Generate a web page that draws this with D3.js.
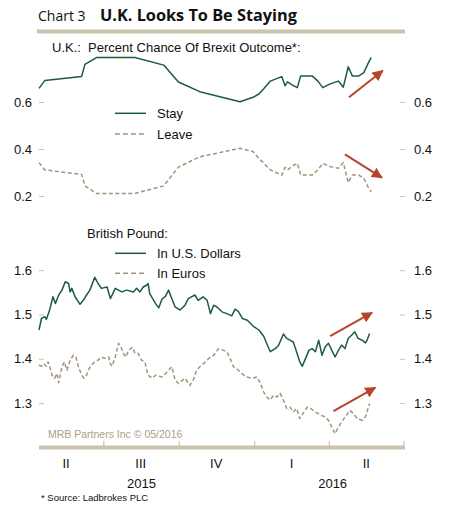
<!DOCTYPE html>
<html><head><meta charset="utf-8">
<script src="https://cdn.jsdelivr.net/npm/d3@7"></script>
<style>
html,body{margin:0;padding:0;background:#fff;}
text{font-family:"Liberation Sans",Arial,sans-serif;}
</style></head>
<body><svg id="c" width="456" height="507"></svg>
<script>
// ---------- DATA ----------
const brexitDates = ["2015-04-13","2015-04-20","2015-06-04","2015-06-08","2015-06-22","2015-08-08","2015-09-12","2015-09-30","2015-10-26","2015-12-14","2015-12-30","2016-01-06","2016-01-12","2016-01-20","2016-02-03","2016-02-07","2016-02-10","2016-02-16","2016-02-22","2016-02-26","2016-03-11","2016-03-18","2016-03-24","2016-04-02","2016-04-12","2016-04-18","2016-04-24","2016-04-29","2016-05-07","2016-05-13","2016-05-18","2016-05-22"];
const stay  = [0.658,0.691,0.709,0.760,0.789,0.789,0.757,0.685,0.644,0.601,0.620,0.634,0.656,0.689,0.708,0.669,0.686,0.672,0.661,0.711,0.711,0.689,0.661,0.677,0.689,0.663,0.750,0.711,0.711,0.725,0.762,0.790];
const leave = [0.342,0.311,0.292,0.243,0.211,0.211,0.243,0.323,0.367,0.403,0.389,0.360,0.339,0.311,0.289,0.322,0.311,0.328,0.339,0.289,0.289,0.311,0.339,0.325,0.318,0.342,0.257,0.289,0.289,0.275,0.240,0.218];

const usdDates = ["2015-04-13","2015-04-16","2015-04-20","2015-04-22","2015-04-26","2015-04-30","2015-05-03","2015-05-07","2015-05-11","2015-05-15","2015-05-19","2015-05-21","2015-05-23","2015-05-27","2015-06-02","2015-06-06","2015-06-10","2015-06-14","2015-06-20","2015-06-24","2015-06-28","2015-07-05","2015-07-09","2015-07-15","2015-07-19","2015-07-23","2015-07-29","2015-08-06","2015-08-10","2015-08-14","2015-08-18","2015-08-22","2015-08-24","2015-08-26","2015-09-02","2015-09-06","2015-09-10","2015-09-14","2015-09-18","2015-09-21","2015-09-26","2015-10-02","2015-10-08","2015-10-12","2015-10-20","2015-10-24","2015-10-30","2015-11-04","2015-11-08","2015-11-12","2015-11-16","2015-11-22","2015-11-28","2015-12-04","2015-12-08","2015-12-12","2015-12-17","2015-12-23","2015-12-30","2016-01-06","2016-01-12","2016-01-16","2016-01-20","2016-01-26","2016-01-30","2016-02-05","2016-02-09","2016-02-13","2016-02-17","2016-02-21","2016-02-25","2016-02-28","2016-03-03","2016-03-07","2016-03-11","2016-03-15","2016-03-19","2016-03-23","2016-03-27","2016-03-31","2016-04-04","2016-04-08","2016-04-12","2016-04-16","2016-04-20","2016-04-24","2016-04-28","2016-05-02","2016-05-06","2016-05-11","2016-05-15","2016-05-17","2016-05-20"];
const usd = [1.465,1.491,1.495,1.489,1.510,1.540,1.525,1.544,1.555,1.574,1.570,1.551,1.559,1.540,1.523,1.532,1.544,1.555,1.584,1.570,1.559,1.562,1.536,1.559,1.555,1.551,1.555,1.551,1.559,1.551,1.562,1.566,1.570,1.547,1.525,1.515,1.535,1.541,1.555,1.540,1.517,1.510,1.521,1.536,1.544,1.532,1.540,1.532,1.502,1.521,1.517,1.506,1.502,1.497,1.512,1.507,1.491,1.487,1.474,1.465,1.451,1.433,1.416,1.423,1.430,1.456,1.446,1.442,1.438,1.416,1.393,1.383,1.401,1.419,1.423,1.416,1.442,1.408,1.427,1.435,1.419,1.404,1.419,1.431,1.423,1.446,1.453,1.461,1.446,1.442,1.436,1.442,1.457];

const eurDates = ["2015-04-13","2015-04-16","2015-04-19","2015-04-22","2015-04-24","2015-04-26","2015-04-29","2015-05-02","2015-05-05","2015-05-07","2015-05-11","2015-05-14","2015-05-17","2015-05-21","2015-05-25","2015-05-28","2015-05-31","2015-06-04","2015-06-07","2015-06-10","2015-06-12","2015-06-16","2015-06-20","2015-06-24","2015-06-28","2015-07-02","2015-07-07","2015-07-09","2015-07-11","2015-07-15","2015-07-19","2015-07-22","2015-07-25","2015-07-28","2015-07-31","2015-08-05","2015-08-08","2015-08-12","2015-08-16","2015-08-20","2015-08-24","2015-08-29","2015-09-02","2015-09-10","2015-09-16","2015-09-22","2015-09-26","2015-09-30","2015-10-08","2015-10-14","2015-10-18","2015-10-22","2015-10-26","2015-11-02","2015-11-06","2015-11-12","2015-11-18","2015-11-24","2015-11-28","2015-12-02","2015-12-06","2015-12-10","2015-12-16","2015-12-22","2015-12-29","2016-01-04","2016-01-08","2016-01-12","2016-01-16","2016-01-20","2016-01-24","2016-01-28","2016-02-01","2016-02-05","2016-02-09","2016-02-13","2016-02-17","2016-02-21","2016-02-25","2016-02-29","2016-03-05","2016-03-09","2016-03-15","2016-03-21","2016-03-27","2016-03-31","2016-04-04","2016-04-08","2016-04-12","2016-04-16","2016-04-22","2016-04-26","2016-04-30","2016-05-05","2016-05-11","2016-05-15","2016-05-20"];
const eur = [1.386,1.383,1.389,1.383,1.393,1.383,1.363,1.356,1.367,1.346,1.382,1.393,1.374,1.397,1.408,1.404,1.382,1.363,1.356,1.363,1.374,1.386,1.393,1.397,1.404,1.401,1.404,1.389,1.383,1.404,1.435,1.426,1.412,1.404,1.419,1.426,1.412,1.412,1.397,1.393,1.363,1.356,1.363,1.359,1.370,1.382,1.352,1.344,1.356,1.340,1.352,1.374,1.382,1.393,1.401,1.408,1.423,1.419,1.416,1.401,1.382,1.378,1.367,1.359,1.356,1.359,1.344,1.325,1.313,1.307,1.318,1.314,1.322,1.307,1.288,1.291,1.280,1.288,1.265,1.277,1.291,1.288,1.280,1.273,1.269,1.261,1.246,1.231,1.246,1.258,1.273,1.284,1.277,1.265,1.261,1.269,1.299];

const brexitTicks = [0.2, 0.4, 0.6];
const poundTicks = [1.3, 1.4, 1.5, 1.6];
const quarterLabels = ["II","III","IV","I","II"];
const quarterMids = ["2015-05-16","2015-08-15","2015-11-15","2016-02-15","2016-05-16"];
const quarterBounds = ["2015-07-01","2015-10-01","2016-01-01","2016-04-01","2016-07-01"];
const yearLabels = ["2015","2016"];
const yearMids = ["2015-08-16","2016-04-05"];
// arrows: [startDate, startValue, endDate, endValue]
const brexitArrows = [["2016-04-25",0.620,"2016-06-05",0.733],["2016-04-20",0.377,"2016-06-04",0.278]];
const poundArrows = [["2016-04-02",1.451,"2016-05-23",1.504],["2016-04-06",1.282,"2016-05-27",1.335]];

// ---------- DRAW ----------
const parse = d3.timeParse("%Y-%m-%d");
const svg = d3.select("#c");
const GREEN = "#1d5c3b", TAN = "#a29578", BEIGE = "#cbc3ad", RED = "#b5452a";

const x = d3.scaleTime().domain([parse("2015-04-13"), parse("2016-07-01")]).range([39, 404]);
const yTop = d3.scaleLinear().domain([0.1, 0.85]).range([219.5, 43.25]);
const yBot = d3.scaleLinear().domain([1.2, 1.65]).range([447.4, 248.05]);

// Title
svg.append("text").attr("x", 38).attr("y", 21).style("font-family", "'Open Sans',sans-serif")
  .style("font-size", "14px").attr("fill", "#111").text("Chart 3");
svg.append("text").attr("x", 100).attr("y", 21).style("font-family", "'Open Sans',sans-serif")
  .style("font-size", "16.3px").style("font-weight", "700").attr("fill", "#111").text("U.K. Looks To Be Staying");
svg.append("rect").attr("x", 37).attr("y", 29.5).attr("width", 368).attr("height", 4).attr("fill", BEIGE);

svg.append("text").attr("x", 52).attr("y", 52).style("font-size", "13px").attr("fill", "#111")
  .attr("xml:space", "preserve").text("U.K.:  Percent Chance Of Brexit Outcome*:");

// marker
svg.append("defs").append("marker").attr("id", "ah").attr("viewBox", "0 0 10 10")
  .attr("refX", 9).attr("refY", 5).attr("markerWidth", 5.5).attr("markerHeight", 5.5)
  .attr("markerUnits", "strokeWidth").attr("orient", "auto")
  .append("path").attr("d", "M0,0 L10,5 L0,10 z").attr("fill", RED);

function axes(scale, ticks) {
  const l = svg.append("g").attr("transform", "translate(39,0)")
    .call(d3.axisLeft(scale).tickValues(ticks).tickSize(-5).tickPadding(7).tickFormat(d3.format(".1f")));
  const r = svg.append("g").attr("transform", "translate(405,0)")
    .call(d3.axisRight(scale).tickValues(ticks).tickSize(-5).tickPadding(9).tickFormat(d3.format(".1f")));
  [l, r].forEach(g => {
    g.select(".domain").remove();
    g.selectAll("line").attr("stroke", BEIGE).attr("stroke-width", 1);
    g.selectAll("text").style("font-family", "'Liberation Sans',Arial,sans-serif").style("font-size", "13px").attr("fill", "#111");
  });
}
axes(yTop, brexitTicks);
axes(yBot, poundTicks);

function series(dates, vals, yS, color, dash) {
  const data = dates.map((d, i) => [parse(d), vals[i]]);
  const p = svg.append("path").datum(data)
    .attr("d", d3.line().x(d => x(d[0])).y(d => yS(d[1])))
    .attr("fill", "none").attr("stroke", color).attr("stroke-width", 1.5).attr("stroke-linejoin", "round");
  if (dash) p.attr("stroke-dasharray", dash);
}
series(brexitDates, stay, yTop, GREEN, null);
series(brexitDates, leave, yTop, TAN, "4,2.5");
series(usdDates, usd, yBot, GREEN, null);
series(eurDates, eur, yBot, TAN, "4,2.5");

function arrows(list, yS) {
  list.forEach(a => {
    svg.append("line").attr("x1", x(parse(a[0]))).attr("y1", yS(a[1]))
      .attr("x2", x(parse(a[2]))).attr("y2", yS(a[3]))
      .attr("stroke", RED).attr("stroke-width", 2).attr("marker-end", "url(#ah)");
  });
}
arrows(brexitArrows, yTop);
arrows(poundArrows, yBot);

// legends
function legendItem(y, label, color, dash) {
  const l = svg.append("line").attr("x1", 115).attr("x2", 146).attr("y1", y).attr("y2", y)
    .attr("stroke", color).attr("stroke-width", 1.5);
  if (dash) l.attr("stroke-dasharray", "5,3");
  svg.append("text").attr("x", 157).attr("y", y + 4.5).style("font-size", "13px").attr("fill", "#111").text(label);
}
legendItem(113.3, "Stay", GREEN, false);
legendItem(134, "Leave", TAN, true);
svg.append("text").attr("x", 87).attr("y", 237.5).style("font-size", "13px").attr("fill", "#111").text("British Pound:");
legendItem(253.3, "In U.S. Dollars", GREEN, false);
legendItem(273.3, "In Euros", TAN, true);

// copyright
svg.append("text").attr("x", 48).attr("y", 437.5).style("font-size", "10.5px").attr("fill", "#a89f87").text("MRB Partners Inc \u00A9 05/2016");

// x axis band
svg.append("rect").attr("x", 39).attr("y", 445.5).attr("width", 366).attr("height", 4).attr("fill", BEIGE);
svg.selectAll(".qt").data(quarterBounds).enter().append("line")
  .attr("x1", d => x(parse(d))).attr("x2", d => x(parse(d)))
  .attr("y1", 441).attr("y2", 446).attr("stroke", BEIGE).attr("stroke-width", 1.2);
svg.selectAll(".ql").data(quarterLabels).enter().append("text")
  .attr("x", (d, i) => x(parse(quarterMids[i]))).attr("y", 468).attr("text-anchor", "middle")
  .style("font-size", "13px").attr("fill", "#111").text(d => d);
svg.selectAll(".yl").data(yearLabels).enter().append("text")
  .attr("x", (d, i) => x(parse(yearMids[i]))).attr("y", 488).attr("text-anchor", "middle")
  .style("font-size", "13px").attr("fill", "#111").text(d => d);

svg.append("text").attr("x", 41).attr("y", 501).style("font-size", "9.5px").attr("fill", "#111").text("* Source: Ladbrokes PLC");
</script>
</body></html>
